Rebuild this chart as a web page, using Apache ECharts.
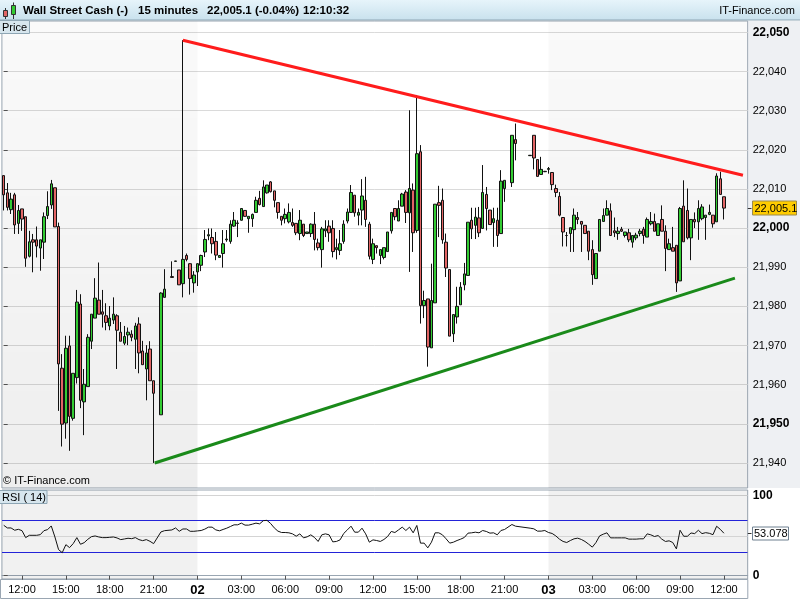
<!DOCTYPE html>
<html><head><meta charset="utf-8">
<script src="https://cdn.jsdelivr.net/npm/echarts@6/dist/echarts.min.js"></script>
<style>html,body{margin:0;padding:0;background:#fff}#c{width:800px;height:600px}</style>
</head><body><div id="c"></div>
<script>
// ---------- DATA ----------
const opens = [22013.4,22009.0,22004.7,22008.5,22001.2,22004.9,22002.9,21992.8,21997.0,21997.0,
21994.9,21996.4,22003.2,22005.9,22010.3,22000.4,21964.2,21950.2,21969.9,21951.4,
21961.8,21980.6,21955.6,21959.5,21971.1,21977.0,21981.6,21978.6,21977.6,21975.0,
21976.5,21977.6,21973.4,21970.6,21972.7,21972.9,21971.6,21975.5,21968.6,21964.0,
21969.1,21961.0,null,21952.3,21982.3,null,21987.6,21991.5,21989.3,21985.8,
21993.0,21990.9,21986.0,21988.8,21990.5,21993.9,21998.0,21997.6,21996.6,21992.5,
21993.5,21997.0,21996.6,22000.5,22001.2,22002.0,22004.5,22002.4,22002.4,22004.0,
22007.6,22005.5,22009.0,22011.8,22009.5,22006.5,22003.0,22002.4,22001.6,22001.4,
22001.2,21998.6,22001.0,21998.6,21998.6,22001.0,21996.2,21994.5,21999.3,22000.5,
21999.9,21994.5,21994.3,21996.6,22001.8,22004.0,22008.4,22003.3,22004.6,22007.1,
22001.0,21992.0,21995.5,21993.0,21992.5,21994.0,21999.3,22005.0,22001.8,22005.6,
22009.2,22003.9,22009.7,21999.4,22019.5,21980.2,21981.9,21969.4,21980.9,22006.5,
22007.1,21996.4,21989.4,21973.0,21977.3,21980.4,21985.5,21987.9,22002.0,22000.7,
22002.6,21999.9,22008.6,22004.6,22001.4,22002.0,21998.6,22010.1,null,22011.6,
22022.6,null,null,null,22018.5,22023.7,22017.5,22013.7,22014.4,22015.0,
22014.2,22010.1,22008.1,22002.7,21998.1,21998.6,21999.6,22002.7,22001.7,22000.7,
21999.2,21994.5,21987.1,21994.1,22001.7,22003.3,22004.4,21999.3,21998.6,21999.7,
21998.1,21998.8,21996.4,21997.5,21998.6,21999.7,21997.7,22001.1,22001.7,21998.1,
22002.2,21999.2,21994.5,21995.0,21995.6,21986.5,22005.6,22004.5,21997.5,22002.2,
22001.6,22002.4,22002.7,22003.5,22003.3,22001.6,22012.6,22008.0];
const highs = [22013.4,22011.5,22009.0,22009.0,22005.9,22004.9,22002.9,21999.3,21998.5,22000.4,
21997.0,22004.0,22009.4,22012.3,22010.3,22001.4,21967.8,21972.5,21972.5,21962.9,
21984.2,21983.1,21964.0,21972.9,21978.0,21987.2,21991.2,21984.2,21980.8,21980.1,
21982.3,21978.0,21976.0,21975.0,21974.6,21973.9,21975.8,21977.2,21971.2,21970.1,
21971.1,21961.0,null,21983.6,21989.5,null,21991.5,21991.6,21989.3,22048.0,
21993.5,21991.0,21989.0,21991.0,21993.2,21999.5,21999.9,21999.9,21999.0,21993.0,
21999.5,21999.5,22002.0,22004.1,22002.0,22005.0,22004.5,22003.0,22003.7,22008.0,
22009.5,22012.2,22011.0,22012.0,22009.5,22006.5,22003.0,22005.0,22006.3,22005.0,
22001.2,22004.6,22001.0,21999.0,22001.2,22004.1,21997.3,22000.3,22002.0,22002.0,
22002.0,21997.3,21999.5,22002.0,22005.0,22011.0,22008.4,22005.0,22012.5,22013.1,
22001.6,21997.3,21995.5,21994.5,21995.0,21999.0,22004.0,22005.0,22007.1,22009.0,
22009.7,22030.1,22011.4,22034.0,22021.2,21984.0,21981.9,21990.9,22006.1,22010.8,
22010.1,21998.6,21989.4,21977.9,21985.0,21986.2,21991.1,22001.5,22005.2,22005.2,
22005.4,22016.1,22010.5,22004.6,22005.2,22005.2,22014.8,22012.2,null,22023.7,
22026.7,null,null,null,22018.6,22023.7,22017.5,22018.2,22014.6,22015.6,
22014.2,22011.1,22009.2,22002.7,21999.0,22000.1,22005.0,22004.1,22001.7,22000.7,
21999.2,21996.9,21993.5,22002.2,22005.0,22007.1,22006.3,22002.7,22000.3,22000.3,
21999.0,21999.8,21998.1,21998.8,21999.8,22000.3,22002.7,22004.1,22003.7,22001.1,
22005.8,22000.7,21997.3,22000.3,21995.6,22005.4,22012.2,22010.1,22002.2,22004.0,
22007.1,22006.1,22003.3,22006.0,22003.3,22014.0,22014.4,22008.0];
const lows = [22004.5,22004.5,22003.6,21998.5,21998.5,21999.3,21990.1,21992.5,21988.7,21992.5,
21989.1,21992.1,22002.3,22004.9,22000.3,21953.3,21944.2,21946.2,21943.1,21950.8,
21960.3,21954.0,21947.1,21959.5,21969.1,21977.0,21978.0,21974.6,21973.9,21973.9,
21975.5,21964.0,21971.1,21970.1,21970.1,21971.1,21964.0,21962.9,21965.1,21956.0,
21961.0,21940.0,null,21952.3,21982.3,null,21987.4,21991.5,21985.5,21982.3,
21991.5,21983.0,21983.5,21985.2,21989.0,21992.6,21996.9,21993.5,21991.8,21992.5,
21989.9,21996.5,21996.0,22000.3,21997.7,22001.9,22002.9,21998.8,22000.3,22004.0,
22005.8,22005.5,22008.8,22009.1,22005.3,22002.4,22000.7,22001.2,22001.2,22000.3,
21998.2,21996.9,21997.7,21998.6,21997.7,21994.3,21994.3,21989.9,21997.7,21996.5,
21992.5,21992.0,21993.1,21996.0,22001.2,22004.0,22002.9,22000.7,22000.7,22000.3,
21992.0,21990.8,21993.5,21990.8,21992.0,21994.0,21998.6,22002.0,22001.8,22005.6,
22001.3,21988.8,21993.9,21998.8,21975.6,21977.0,21964.6,21969.4,21980.9,21997.7,
21996.0,21987.5,21972.4,21970.9,21975.6,21980.4,21984.1,21987.9,21997.2,21997.2,
21997.7,21999.9,21999.4,22000.9,21995.2,21995.2,21998.6,22006.7,null,22010.5,
22017.3,null,null,null,22018.5,22015.0,22013.2,22013.7,22014.3,22013.9,
22009.7,22007.9,22003.0,21995.3,21995.3,21993.9,21993.9,22001.0,21993.9,21998.6,
21991.8,21985.5,21987.1,21994.1,22001.7,22003.3,21998.1,21997.7,21997.0,21999.0,
21997.6,21996.4,21995.0,21996.9,21997.9,21996.0,21997.7,22000.7,21999.2,21998.1,
21999.2,21989.0,21994.5,21994.1,21983.7,21986.5,21996.5,21997.1,21991.8,22000.0,
21997.0,22002.0,21997.0,22003.3,22000.1,22001.6,22008.6,22002.2];
const closes = [22008.5,22005.3,22007.4,22000.8,22004.5,22002.3,21992.3,21996.5,21996.4,21995.4,
21997.0,22002.9,22005.5,22011.3,22000.3,21965.3,21949.9,21969.3,21951.9,21962.9,
21981.1,21956.0,21960.1,21972.1,21978.0,21982.1,21978.0,21978.0,21975.9,21977.0,
21978.0,21973.9,21971.1,21972.3,21973.4,21972.1,21975.0,21968.1,21965.1,21968.1,
21961.0,21957.8,null,21983.4,21984.4,null,21987.4,21991.6,21985.5,21992.0,
21992.0,21987.1,21988.0,21990.9,21993.0,21997.1,21998.3,21996.0,21993.1,21993.0,
21996.0,21997.2,22001.0,22002.0,22001.3,22005.0,22003.0,22003.0,22003.5,22007.1,
22006.0,22010.5,22011.0,22009.3,22007.1,22004.0,22002.0,22003.5,22004.0,22000.7,
21998.8,22002.0,21998.1,21999.0,22001.0,21997.1,21995.0,21999.8,21999.8,21998.8,
21994.0,21995.0,21996.0,22001.0,22004.1,22009.1,22003.9,22004.0,22008.2,22002.2,
21992.8,21996.0,21995.0,21994.5,21995.0,21999.0,22004.0,22002.9,22005.0,22008.7,
22004.0,22010.1,21998.8,22019.0,21980.2,21981.5,21969.6,21981.5,22006.1,22005.8,
21997.0,21989.8,21972.4,21977.9,21980.0,21984.9,21988.3,22001.5,21999.8,22002.8,
21998.8,22009.1,22005.0,22000.9,22002.4,21998.1,22012.0,22012.2,null,22023.7,
22021.6,null,null,null,22018.6,22017.9,22013.2,22015.0,22014.5,22015.2,
22011.1,22009.1,22003.3,21999.0,21998.1,22000.1,22003.3,22002.2,22001.0,21998.6,
21994.1,21988.1,21993.5,22002.2,22003.2,22005.0,21998.1,21998.8,21999.2,21999.2,
21999.0,21997.0,21998.1,21998.2,21999.2,21998.1,22002.2,22001.7,21999.2,22001.1,
21999.2,21994.8,21996.0,21994.1,21986.0,22005.0,21996.5,21997.5,22002.2,22001.6,
22005.0,22005.4,22003.3,22004.0,22001.1,22013.3,22008.6,22005.1];
const rsi = [63.0,59.7,59.7,56.8,58.0,56.3,47.6,50.5,50.5,50.5,
51.3,56.3,57.6,62.2,48.4,32.6,28.8,38.8,35.1,40.1,
47.6,39.3,41.3,45.5,48.8,49.7,48.4,47.6,47.6,48.0,
48.4,47.2,45.1,45.9,46.8,46.3,47.6,45.1,43.8,45.1,
43.0,40.1,null,54.7,56.3,null,57.2,59.7,55.5,58.4,
58.4,55.5,55.5,56.0,56.5,58.2,60.7,60.7,57.3,56.1,
57.8,59.4,61.5,63.6,63.6,65.7,63.2,63.2,64.4,65.7,
64.8,68.8,69.2,65.3,59.8,55.7,54.0,54.0,53.6,52.3,
49.4,52.3,47.3,48.6,51.1,47.8,42.8,51.1,52.3,51.1,
42.3,42.8,44.8,52.8,57.3,61.9,54.4,54.4,59.4,52.3,
41.9,44.8,44.0,42.8,45.3,49.0,55.3,54.0,57.3,60.7,
56.5,60.7,53.6,62.8,40.7,40.7,34.8,41.9,53.6,53.6,
51.1,46.1,40.7,41.9,44.0,45.7,47.8,53.2,53.6,54.4,
53.6,56.5,55.3,53.2,53.6,51.1,56.5,57.8,null,64.0,
61.9,null,null,null,59.4,58.6,55.7,55.7,56.5,54.0,
52.8,49.8,45.7,42.8,41.5,44.0,46.1,46.9,45.3,42.8,
39.4,35.7,41.5,49.8,51.9,53.6,47.3,47.3,47.3,47.3,
47.3,45.7,45.7,45.7,46.1,46.1,52.3,51.1,49.0,50.2,
45.7,42.8,43.6,41.5,33.5,56.8,49.3,49.3,53.4,52.6,
56.8,52.6,53.8,53.0,51.3,61.8,58.0,53.078];
const priceTicks = [21940,21950,21960,21970,21980,21990,22000,22010,22020,22030,22040,22050];
const rsiTicks = [0,100];
const rsiBands = [30,70];
const rsiMid = [50];
const timeLabels = ['00:00','03:00','06:00','09:00','12:00','15:00','18:00','21:00'];
const redTrend = [[49,22048.0],[202.2,22013.5]];
const greenTrend = [[41.3,21940.0],[200.0,21987.2]];
const shadedDays = [[-0.5,53],[149,203.5]];   // in slot units (day 01 and day 03)
const lastPrice = 22005.1, lastRsi = 53.078;
const headerTexts = ['Wall Street Cash (-)','15 minutes','22,005.1 (-0.04%)','12:10:32'];

// ---------- categories (15-minute slots from day 01 10:45) ----------
const cats = [];
for (let k = 0; k < 204; k++) {
  const t = 10*60+45 + 15*k;
  const d = 1 + Math.floor(t/1440), m = t % 1440;
  cats.push('0'+d+' '+String(Math.floor(m/60)).padStart(2,'0')+':'+String(m%60).padStart(2,'0'));
}
const FONT = '"Liberation Sans", Arial, sans-serif';
const isLab = (i, v) => timeLabels.indexOf(String(v).split(' ')[1]) >= 0;
const fmtNum = v => Math.floor(v/1000)+','+String(v%1000).padStart(3,'0');
const candleData = opens.map((o,i) => o == null ? ['-','-','-','-'] : [o, closes[i], lows[i], highs[i]]);

const chart = echarts.init(document.getElementById('c'), null, {renderer:'canvas'});
const shadeMain = {type:'linear',x:0,y:0,x2:0,y2:1,colorStops:[{offset:0,color:'rgba(0,0,0,0.02)'},{offset:1,color:'rgba(0,0,0,0.065)'}]};
chart.setOption({
  animation:false,
  grid:[
    {left:1.9, top:21, width:745.8, height:467, show:true, borderColor:'#9aa6b2', borderWidth:1},
    {left:1.9, top:490, width:745.8, height:89, show:true, borderColor:'#9aa6b2', borderWidth:1}
  ],
  xAxis:[
    {type:'category', gridIndex:0, data:cats, boundaryGap:true, axisLine:{show:false}, axisTick:{show:false}, axisLabel:{show:false}, splitLine:{show:false}},
    {type:'category', gridIndex:1, data:cats, boundaryGap:true,
     axisLine:{show:true, lineStyle:{color:'#9aa6b2'}},
     axisTick:{show:true, alignWithLabel:true, interval:isLab, length:4, lineStyle:{color:'#555'}},
     axisLabel:{interval:isLab, margin:5, fontSize:11, color:'#000', fontFamily:FONT,
       formatter:v=>{const p=v.split(' ');return p[1]==='00:00'?'{b|'+p[0]+'}':p[1];},
       rich:{b:{fontWeight:'bold',fontSize:13,fontFamily:FONT,color:'#000'}}},
     splitLine:{show:false}},
    {type:'value', gridIndex:0, min:-0.5, max:203.5, show:false},
    {type:'value', gridIndex:1, min:-0.5, max:203.5, show:false}
  ],
  yAxis:[
    {type:'value', gridIndex:0, position:'right', min:21933.6, max:22052.9,
     axisLine:{show:false},
     axisTick:{show:true, customValues:priceTicks, length:4, lineStyle:{color:'#555'}},
     axisLabel:{customValues:priceTicks, margin:5, fontSize:11, color:'#000', fontFamily:FONT,
       formatter:v=>v%50===0?'{b|'+fmtNum(v)+'}':fmtNum(v),
       rich:{b:{fontWeight:'bold',fontSize:12,fontFamily:FONT,color:'#000'}}},
     splitLine:{show:true, lineStyle:{color:'#dadada',width:1}}},
    {type:'value', gridIndex:1, position:'right', min:-4.125, max:107.125,
     axisLine:{show:false},
     axisTick:{show:true, customValues:rsiTicks, length:4, lineStyle:{color:'#555'}},
     axisLabel:{customValues:rsiTicks, margin:5, fontSize:12, fontWeight:'bold', color:'#000', fontFamily:FONT},
     splitLine:{show:true, lineStyle:{color:'#d4d4d4',width:1}}}
  ],
  series:[
    {type:'candlestick', name:'price', xAxisIndex:0, yAxisIndex:0, data:candleData, barWidth:3, z:3,
     itemStyle:{color:'#33cc33', color0:'#e26565', borderColor:'#111', borderColor0:'#111', borderWidth:1}},
    {type:'line', name:'resistance', xAxisIndex:2, yAxisIndex:0, data:redTrend, symbol:'none', z:4, silent:true,
     lineStyle:{color:'#ff1c1c', width:3},
     markArea:{silent:true, itemStyle:{color:shadeMain}, data:shadedDays.map(r=>[{xAxis:r[0]},{xAxis:r[1]}])}},
    {type:'line', name:'support', xAxisIndex:2, yAxisIndex:0, data:greenTrend, symbol:'none', z:4, silent:true,
     lineStyle:{color:'#1a8a1a', width:3}},
    {type:'line', name:'shade', xAxisIndex:3, yAxisIndex:1, data:[[-0.5,50],[203.5,50]], symbol:'none', silent:true,
     lineStyle:{opacity:0}, z:1,
     markArea:{silent:true, itemStyle:{color:'rgba(0,0,0,0.055)'}, data:shadedDays.map(r=>[{xAxis:r[0]},{xAxis:r[1]}])}},
    {type:'line', name:'RSI', xAxisIndex:1, yAxisIndex:1, data:rsi, symbol:'none', connectNulls:true, z:5,
     lineStyle:{color:'#111', width:1}}
  ]
});

const yP = Math.round(chart.convertToPixel({yAxisIndex:0}, lastPrice)) + 0.5;
const yR = Math.round(chart.convertToPixel({yAxisIndex:1}, lastRsi)) + 0.5;
const hx = [23, 138, 207, 303];
const g = [
  {type:'rect', z:-5, shape:{x:748.5,y:21,width:52,height:467}, style:{fill:'#eef0f3'}},
  {type:'rect', z:10, shape:{x:-0.5,y:-0.5,width:801,height:20.5}, style:{fill:{type:'linear',x:0,y:0,x2:0,y2:1,colorStops:[{offset:0,color:'#e8f5fb'},{offset:1,color:'#c8e1ed'}]}, stroke:'#8ea6b4', lineWidth:1}},
  // icon
  {type:'line', z:11, shape:{x1:5.5,y1:8,x2:5.5,y2:19}, style:{stroke:'#333',lineWidth:1}},
  {type:'rect', z:12, shape:{x:3.5,y:10.5,width:4,height:6}, style:{fill:'#e26565',stroke:'#333',lineWidth:1}},
  {type:'line', z:11, shape:{x1:13.5,y1:2.5,x2:13.5,y2:19}, style:{stroke:'#333',lineWidth:1}},
  {type:'rect', z:12, shape:{x:11.5,y:5.5,width:4,height:9}, style:{fill:'#33cc33',stroke:'#333',lineWidth:1}},
  {type:'text', z:12, x:795, y:11, style:{text:'IT-Finance.com', font:'11px '+FONT, fill:'#000', align:'right', verticalAlign:'middle'}},
  // Price label
  {type:'rect', z:12, shape:{x:-0.5,y:20.5,width:30,height:13}, style:{fill:'#d7e6ee',stroke:'#8ea6b4',lineWidth:1}},
  {type:'text', z:13, x:2, y:27.5, style:{text:'Price', font:'11px '+FONT, fill:'#000', verticalAlign:'middle'}},
  // RSI label
  {type:'rect', z:12, shape:{x:-0.5,y:490.5,width:47.5,height:13}, style:{fill:'#d7e6ee',stroke:'#8ea6b4',lineWidth:1}},
  {type:'text', z:13, x:2, y:497.5, style:{text:'RSI ( 14)', font:'11px '+FONT, fill:'#000', verticalAlign:'middle'}},
  // copyright
  {type:'text', z:13, x:3, y:481, style:{text:'\u00a9 IT-Finance.com', font:'11px '+FONT, fill:'#000', verticalAlign:'middle'}},
  // last price box
  {type:'line', z:13, shape:{x1:747.8,y1:yP,x2:751.5,y2:yP}, style:{stroke:'#333',lineWidth:1}},
  {type:'rect', z:13, shape:{x:752.5,y:yP-7.5,width:44,height:14}, style:{fill:'#ffcc00',stroke:'#9a8a50',lineWidth:1}},
  {type:'text', z:14, x:754.5, y:yP, style:{text:lastPrice.toFixed(1).replace(/^(\d\d)(\d{3})/,'$1,$2'), font:'11px '+FONT, fill:'#000', verticalAlign:'middle'}},
  // last RSI box
  {type:'line', z:13, shape:{x1:747.8,y1:yR,x2:751.5,y2:yR}, style:{stroke:'#333',lineWidth:1}},
  {type:'rect', z:13, shape:{x:752.5,y:yR-6.5,width:36,height:13}, style:{fill:'#ffffff',stroke:'#6f8090',lineWidth:1}},
  {type:'text', z:14, x:754, y:yR, style:{text:String(lastRsi), font:'11px '+FONT, fill:'#000', verticalAlign:'middle'}},
  // bottom frame for time axis
  {type:'rect', z:-5, shape:{x:0.5,y:579.5,width:747.3,height:19}, style:{fill:'none',stroke:'#9aa6b2',lineWidth:1}}
];
// RSI reference lines (mid line grey, bands blue), positioned through the RSI axis
rsiMid.forEach(v=>{const y=Math.round(chart.convertToPixel({yAxisIndex:1}, v))+0.5;
  g.push({type:'line', z:2, silent:true, shape:{x1:2,y1:y,x2:747.5,y2:y}, style:{stroke:'#d4d4d4',lineWidth:1}});});
rsiBands.forEach(v=>{const y=Math.round(chart.convertToPixel({yAxisIndex:1}, v))+0.5;
  g.push({type:'line', z:3, silent:true, shape:{x1:2,y1:y,x2:747.5,y2:y}, style:{stroke:'#2323d8',lineWidth:1}});});
headerTexts.forEach((t,i)=>g.push({type:'text', z:12, x:hx[i], y:11, style:{text:t, font:'bold 11.5px '+FONT, fill:'#000', verticalAlign:'middle'}}));
chart.setOption({graphic:g});
</script>
</body></html>
